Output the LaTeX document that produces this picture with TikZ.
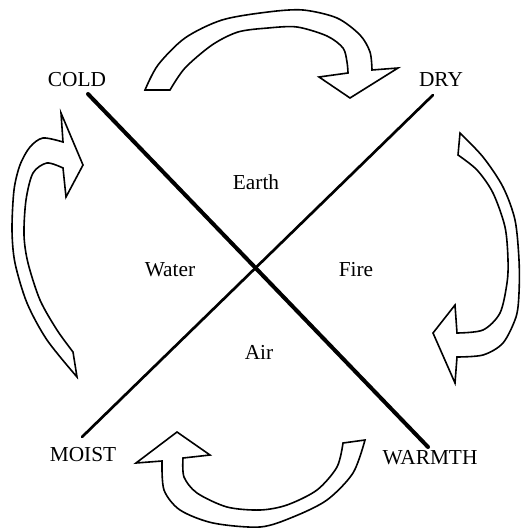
\documentclass[tikz,border=0pt]{standalone}
\usepackage{fontspec}
\setmainfont{Liberation Serif}
\begin{document}
\begin{tikzpicture}[x=0.75pt,y=-0.75pt,
  arrowshape/.style={draw=black,line width=1.2pt,fill=white,line join=miter},
  corner/.style={font=\fontsize{16}{18}\selectfont,inner sep=0pt},
  element/.style={font=\fontsize{16}{18}\selectfont,inner sep=0pt},
  thickline/.style={line width=3pt,line cap=round},
  thinline/.style={line width=2pt,line cap=round}]
\useasboundingbox (0,0) rectangle (521,530);
% labels
\node[corner] (cold) at (77,80) {COLD};
\node[corner] (dry) at (441,80) {DRY};
\node[corner] (moist) at (83,455) {MOIST};
\node[corner] (warmth) at (430,458) {WARMTH};
\node[element] (earth) at (256,182) {Earth};
\node[element] (water) at (170,270) {Water};
\node[element] (fire) at (356,270) {Fire};
\node[element] (air) at (259,352) {Air};
% line ends
\coordinate (cA) at (88,94);
\coordinate (wA) at (428,447);
\coordinate (dA) at (433,95);
\coordinate (mA) at (82,437);
\draw[thickline] (cA) -- (wA);
\draw[thinline] (dA) -- (mA);
% top arrow
\draw[arrowshape] plot[smooth] coordinates {(145,90) (158,65) (185,38) (222,20) (268,12) (303,10) (337,18) (360,35) (370,52) (372,70)}
  -- (398,68) -- (350,98) -- (319,77)
  -- plot[smooth] coordinates {(348,73) (347,62) (343,48) (327,36) (297,27) (268,28) (238,32) (212,45) (185,68) (170,90)} -- cycle;
% right arrow
\draw[arrowshape] plot[smooth] coordinates {(460,133) (483,157) (503,187) (515,220) (519,260) (519,293) (516,317) (503,343) (483,355) (457,357)}
  -- (455,383) -- (433,333) -- (455,305)
  -- plot[smooth] coordinates {(457,333) (483,330) (500,313) (507,283) (508,260) (505,227) (493,193) (477,170) (458,155)} -- cycle;
% bottom arrow
\draw[arrowshape] plot[smooth] coordinates {(365,440) (353,473) (327,500) (293,517) (260,527) (213,523) (180,510) (164,490) (162,461)}
  -- (136,463) -- (177,432) -- (210,455)
  -- plot[smooth] coordinates {(183,458) (184,477) (197,493) (227,507) (260,510) (287,505) (317,490) (337,467) (343,443)} -- cycle;
% left arrow
\draw[arrowshape] plot[smooth] coordinates {(77,377) (47,340) (27,303) (15,263) (12,230) (14,190) (20,165) (30,147) (43,138) (63,142)}
  -- (61,113) -- (83,165) -- (66,197)
  -- plot[smooth] coordinates {(63,168) (47,163) (33,173) (26,200) (24,235) (28,263) (40,300) (57,330) (73,352)} -- cycle;
\end{tikzpicture}
\end{document}
